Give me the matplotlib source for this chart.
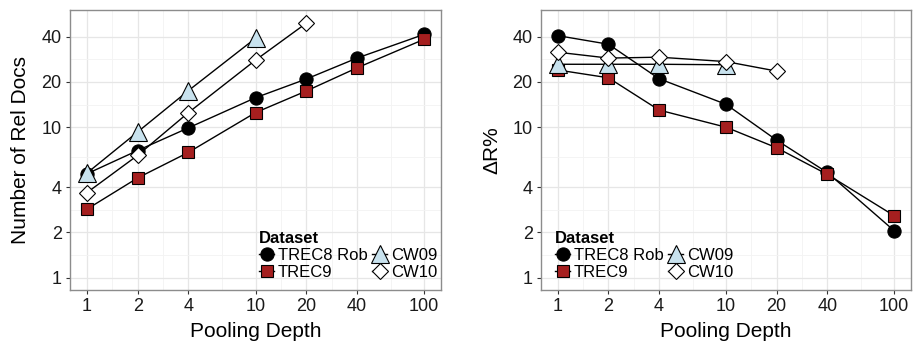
import numpy as np
import matplotlib.pyplot as plt
from matplotlib.ticker import NullFormatter

plt.rcParams['font.family'] = ['Liberation Sans', 'DejaVu Sans']

# pooling depths
depth = [1, 2, 4, 10, 20, 40, 100]
depth_cw09 = [1, 2, 4, 10]
depth_cw10 = [1, 2, 4, 10, 20]

# number of relevant docs
rel_trec8 = [4.9, 7.0, 9.9, 15.7, 20.9, 28.8, 41.4]
rel_trec9 = [2.85, 4.6, 6.8, 12.5, 17.4, 24.8, 38.4]
rel_cw09 = [4.95, 9.3, 17.5, 39.0]
rel_cw10 = [3.67, 6.5, 12.5, 27.9, 49.1]

# delta R %
dr_trec8 = [40.6, 35.6, 21.0, 14.2, 8.2, 5.0, 2.05]
dr_trec9 = [24.0, 21.3, 13.0, 10.0, 7.3, 4.86, 2.58]
dr_cw09 = [26.2, 26.2, 26.2, 26.0]
dr_cw10 = [31.5, 28.8, 29.2, 27.3, 23.6]

names = ['TREC8 Rob', 'TREC9', 'CW09', 'CW10']

xbreaks = [1, 2, 4, 10, 20, 40, 100]
ybreaks = [1, 2, 4, 10, 20, 40]

styles = [
    dict(marker='o', markersize=9.5, markerfacecolor='black'),
    dict(marker='s', markersize=8, markerfacecolor='#a51f1f'),
    dict(marker='^', markersize=12.5, markerfacecolor='#c8e2ee'),
    dict(marker='D', markersize=8.5, markerfacecolor='white'),
]


def style_axes(ax):
    ax.set_xscale('log')
    ax.set_yscale('log')
    ax.set_xlim(10 ** -0.1, 10 ** 2.1)
    ax.set_ylim(10 ** -0.082, 10 ** 1.779)
    ax.set_xticks(xbreaks)
    ax.set_xticklabels([str(v) for v in xbreaks])
    ax.set_yticks(ybreaks)
    ax.set_yticklabels([str(v) for v in ybreaks])
    xminor = [np.sqrt(a * b) for a, b in zip(xbreaks[:-1], xbreaks[1:])]
    yminor = [np.sqrt(a * b) for a, b in zip(ybreaks[:-1], ybreaks[1:])]
    ax.set_xticks(xminor, minor=True)
    ax.set_yticks(yminor, minor=True)
    ax.xaxis.set_minor_formatter(NullFormatter())
    ax.yaxis.set_minor_formatter(NullFormatter())
    ax.tick_params(which='minor', length=0)
    ax.tick_params(which='major', length=3, width=0.8, color='#333333',
                   labelsize=13, labelcolor='#1a1a1a', pad=3)
    ax.grid(True, which='major', color='#e6e6e6', linewidth=0.9)
    ax.grid(True, which='minor', color='#f3f3f3', linewidth=0.6)
    ax.set_axisbelow(True)
    for sp in ax.spines.values():
        sp.set_color('#8c8c8c')
        sp.set_linewidth(1.0)
    ax.set_xlabel('Pooling Depth', fontsize=15, labelpad=5)


def draw(ax, xs, ys):
    for x, y, st, nm in zip(xs, ys, styles, names):
        ax.plot(x, y, color='black', linewidth=1.0, markeredgecolor='black',
                markeredgewidth=0.8, label=nm, **st)


fig = plt.figure(figsize=(9.15, 3.5), dpi=100)
ax1 = fig.add_axes([70 / 915, 60 / 350, 371 / 915, 280 / 350])
ax2 = fig.add_axes([541 / 915, 60 / 350, 370 / 915, 280 / 350])

draw(ax1, [depth, depth, depth_cw09, depth_cw10],
     [rel_trec8, rel_trec9, rel_cw09, rel_cw10])
draw(ax2, [depth, depth, depth_cw09, depth_cw10],
     [dr_trec8, dr_trec9, dr_cw09, dr_cw10])

style_axes(ax1)
style_axes(ax2)
ax1.set_ylabel('Number of Rel Docs', fontsize=15, labelpad=8)
ax2.set_ylabel('\u0394R%', fontsize=15, labelpad=8)

for ax, lx in [(ax1, 251 / 915), (ax2, 547 / 915)]:
    leg = ax.legend(loc='upper left', bbox_to_anchor=(lx, 1 - 223 / 350),
                    bbox_transform=fig.transFigure, ncol=2, frameon=False,
                    title='Dataset', fontsize=12, borderpad=0,
                    handlelength=0.9, handletextpad=0.2, columnspacing=0.3,
                    labelspacing=0.1, alignment='left')
    leg.get_title().set_fontweight('bold')
    leg.get_title().set_fontsize(12)

fig.savefig('out.png', dpi=100)
